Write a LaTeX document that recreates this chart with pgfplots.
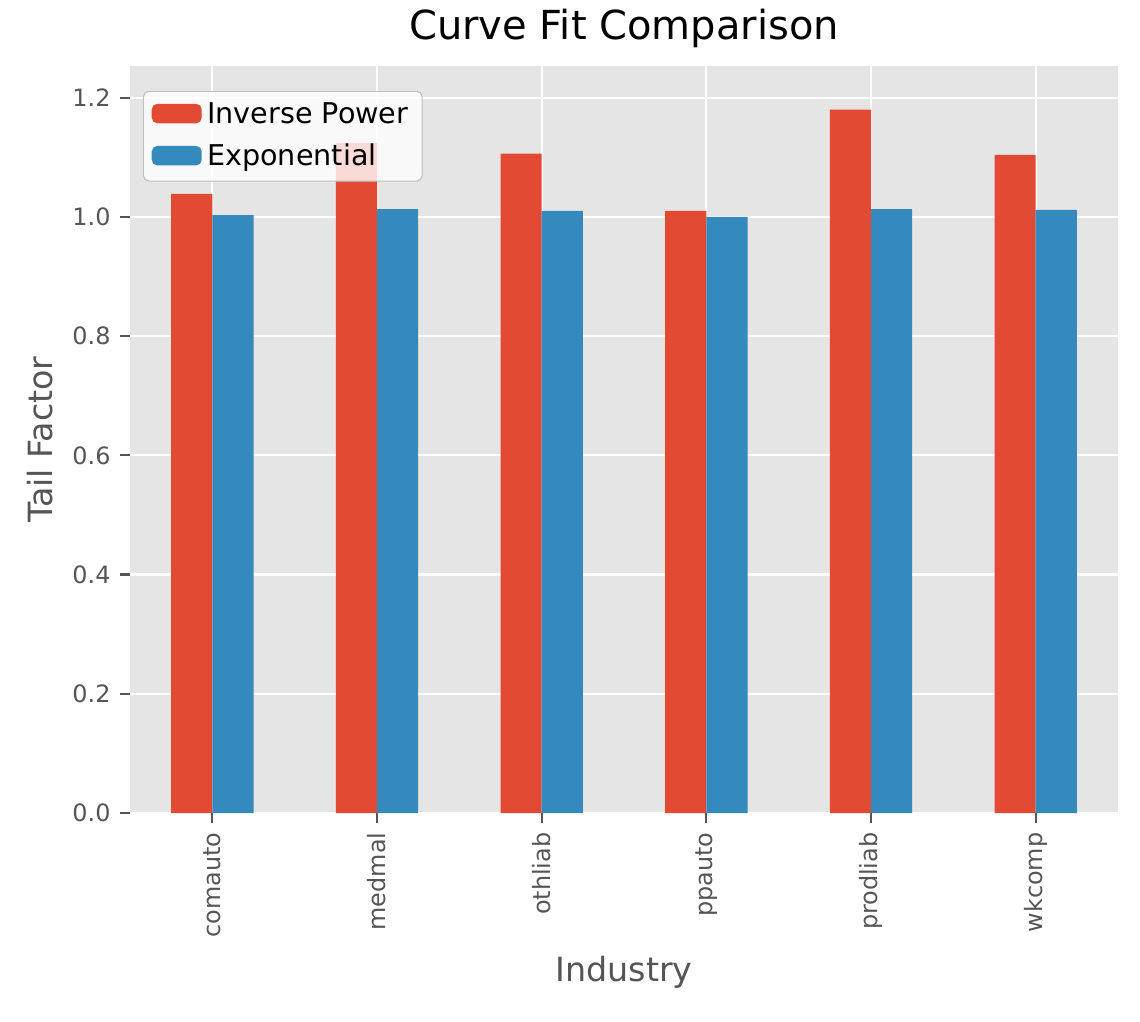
\documentclass[border=0pt]{standalone}
\usepackage{pgfplots}
\pgfplotsset{compat=1.18}
\usepackage{fontspec}
\setmainfont{DejaVu Sans}
\definecolor{cred}{HTML}{E24A33}
\definecolor{cblue}{HTML}{348ABD}
\definecolor{bg}{HTML}{E5E5E5}
\definecolor{tk}{HTML}{555555}
\begin{document}
\begin{tikzpicture}
\path (-46.8pt,-75pt) rectangle (363.6pt,289.3pt);
\begin{axis}[
 scale only axis, width=355.7pt, height=268.9pt,
 xmin=-0.5, xmax=5.5, ymin=0, ymax=1.253,
 axis background/.style={fill=bg},
 axis line style={draw=none},
 xtick=data, xticklabels={comauto,medmal,othliab,ppauto,prodliab,wkcomp},
 xticklabel style={rotate=90, anchor=east, font=\fontsize{8.6}{10}\selectfont, text=tk},
 ytick={0,0.2,0.4,0.6,0.8,1.0,1.2},
 yticklabel style={font=\fontsize{8.6}{10}\selectfont, text=tk, /pgf/number format/.cd, fixed, fixed zerofill, precision=1},
 /pgf/number format/assume math mode=true,
 tick style={color=tk, line width=0.8pt}, major tick length=3.5pt,
 tick align=outside, xtick pos=bottom, ytick pos=left,
 grid=major, major grid style={white, line width=0.8pt},
 ybar=0pt, bar width=0.25,
 title={Curve Fit Comparison}, title style={font=\fontsize{14.4}{17}\selectfont, yshift=-3pt},
 xlabel={Industry}, ylabel={Tail Factor},
 label style={font=\fontsize{12}{14}\selectfont, text=tk},
 legend cell align=left,
 legend style={at={(0.013,0.967)}, anchor=north west, fill=white, fill opacity=0.8, text opacity=1, draw=lightgray, rounded corners=2pt, font=\fontsize{10.3}{12}\selectfont, row sep=2pt},
 legend image code/.code={\fill[#1, fill opacity=1] (0pt,-3pt) rectangle (18pt,4pt);},
]
\addplot[fill=cred, draw=none] coordinates {(0,1.0386) (1,1.124) (2,1.106) (3,1.010) (4,1.180) (5,1.104)};
\addplot[fill=cblue, draw=none] coordinates {(0,1.003) (1,1.013) (2,1.010) (3,1.000) (4,1.013) (5,1.012)};
\legend{Inverse Power, Exponential}
\end{axis}
\end{tikzpicture}
\end{document}
